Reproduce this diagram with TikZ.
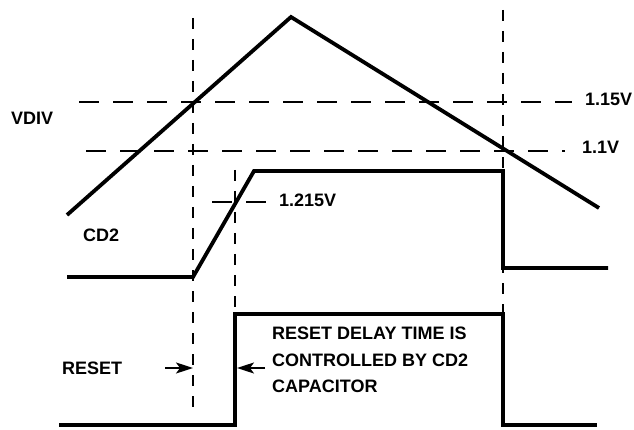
\documentclass[tikz,border=0pt]{standalone}
\usepackage{fontspec}
\setmainfont{Liberation Sans}
\usetikzlibrary{arrows.meta}
\begin{document}
\begin{tikzpicture}[x=1pt,y=-1pt,
  wave/.style={line width=3.8pt,line join=miter},
  guide/.style={line width=1.8pt,dash pattern=on 11pt off 10pt},
  hguide/.style={line width=1.8pt,dash pattern=on 20pt off 14pt},
  lbl/.style={font=\bfseries\fontsize{18}{26.5}\selectfont,inner sep=0pt,text height=0.72em,text depth=0pt},
  dimarrow/.style={line width=1.8pt,-{Stealth[length=17pt,width=11pt,inset=4pt]}}]
\useasboundingbox (0,0) rectangle (634,430);
% coordinates
\coordinate (t1) at (67,215); \coordinate (t2) at (291,17); \coordinate (t3) at (599,208);
\coordinate (c1) at (67,277); \coordinate (c2) at (193,277); \coordinate (c3) at (254,171);
\coordinate (c4) at (503,171); \coordinate (c5) at (503,268); \coordinate (c6) at (608,268);
\coordinate (r1) at (59,425); \coordinate (r2) at (235,425); \coordinate (r3) at (235,314);
\coordinate (r4) at (503,314); \coordinate (r5) at (503,425); \coordinate (r6) at (597,425);
\coordinate (h1a) at (79,102); \coordinate (h1b) at (572,102);
\coordinate (h2a) at (86,151); \coordinate (h2b) at (565,151);
\coordinate (h3a) at (212,202); \coordinate (h3b) at (272,202);
\coordinate (v1a) at (193,18); \coordinate (v1b) at (193,412);
\coordinate (v2a) at (235,170); \coordinate (v2b) at (235,310);
\coordinate (v3a) at (503,10); \coordinate (v3b) at (503,428);
\coordinate (a1s) at (165,368); \coordinate (a1e) at (193,368);
\coordinate (a2s) at (265,368); \coordinate (a2e) at (237,368);
% guides
\draw[hguide] (h1a) -- (h1b);
\draw[hguide] (h2a) -- (h2b);
\draw[hguide] (h3a) -- (h3b);
\draw[guide] (v1a) -- (v1b);
\draw[guide] (v2a) -- (v2b);
\draw[guide] (v3a) -- (v3b);
% waves
\draw[wave] (t1) -- (t2) -- (t3);
\draw[wave] (c1) -- (c2) -- (c3) -- (c4) -- (c5) -- (c6);
\draw[wave] (r1) -- (r2) -- (r3) -- (r4) -- (r5) -- (r6);
% arrows
\draw[dimarrow] (a1s) -- (a1e);
\draw[dimarrow] (a2s) -- (a2e);
% labels
\node[lbl,anchor=west] (vdiv) at (11,121) {VDIV};
\node[lbl,anchor=west] (cd2) at (83,238) {CD2};
\node[lbl,anchor=west] (reset) at (62,371) {RESET};
\node[lbl,anchor=west] (v115) at (585,102) {1.15V};
\node[lbl,anchor=west] (v11) at (582,150) {1.1V};
\node[lbl,anchor=west] (v1215) at (279,203) {1.215V};
\node[font=\bfseries\fontsize{18}{26.5}\selectfont,inner sep=0pt,align=left,anchor=north west] (note) at (272,327) {RESET DELAY TIME IS\\CONTROLLED BY CD2\\CAPACITOR};
\end{tikzpicture}
\end{document}
